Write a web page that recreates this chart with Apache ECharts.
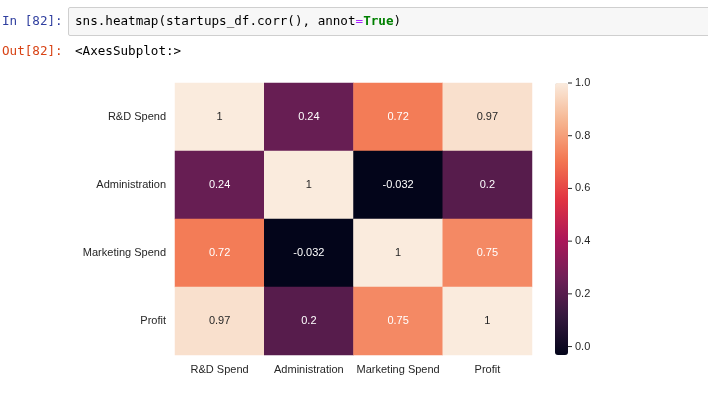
<!DOCTYPE html>
<html><head><meta charset="utf-8">
<script src="https://cdn.jsdelivr.net/npm/echarts@6/dist/echarts.min.js"></script>
<style>
html,body{margin:0;padding:0;background:#fff;width:708px;height:393px;overflow:hidden;}
#chart{position:absolute;left:0;top:0;width:708px;height:393px;}
.mono{position:absolute;font-family:"DejaVu Sans Mono","Liberation Mono",monospace;font-size:12.6px;white-space:pre;line-height:16px;}
#inbox{position:absolute;left:68px;top:7px;width:650px;height:29px;background:#f7f7f7;border:1px solid #cfcfcf;border-radius:2px;box-sizing:border-box;}
</style></head>
<body>
<div id="chart"></div>
<div id="inbox"></div>
<div class="mono" style="left:2px;top:13px;color:#303f9f;">In [82]:</div>
<div class="mono" style="left:75px;top:13px;color:#000;">sns.heatmap(startups_df.corr(), annot<span style="color:#aa22ff">=</span><span style="color:#008000;font-weight:bold">True</span>)</div>
<div class="mono" style="left:2px;top:43px;color:#d84315;">Out[82]:</div>
<div class="mono" style="left:75px;top:43px;color:#000;">&lt;AxesSubplot:&gt;</div>
<script>
const categories = ['R&D Spend', 'Administration', 'Marketing Spend', 'Profit'];
const corrRows = [
  [1, 0.24, 0.72, 0.97],
  [0.24, 1, -0.032, 0.2],
  [0.72, -0.032, 1, 0.75],
  [0.97, 0.2, 0.75, 1]
];
const colorbarTickMin = 0, colorbarTickMax = 1, colorbarTickStep = 0.2;
const rocket = ['#03051a', '#35193e', '#701f57', '#ad1759', '#e13342', '#f37651', '#f6b48f', '#faebdd'];

const flat = corrRows.flat();
const vmin = Math.min(...flat), vmax = Math.max(...flat);
const data = [];
corrRows.forEach((row, yi) => row.forEach((v, xi) => {
  data.push({value: [xi, yi, v], label: {color: v > 0.85 ? '#262626' : '#ffffff'}});
}));
const txt = '#262626';
const font = '"Liberation Sans", Arial, sans-serif';
const cbTop = 83, cbH = 272;
const tickTop = cbTop + cbH * (vmax - colorbarTickMax) / (vmax - vmin);
const tickH = cbH * (colorbarTickMax - colorbarTickMin) / (vmax - vmin);
const chart = echarts.init(document.getElementById('chart'), null, {renderer: 'canvas'});
chart.setOption({
  animation: false,
  backgroundColor: 'transparent',
  grid: [
    {left: 175, top: 83, width: 357, height: 272},
    {left: 555, top: tickTop, width: 13, height: tickH}
  ],
  xAxis: [
    {type: 'category', data: categories, gridIndex: 0,
     axisLine: {show: false}, axisTick: {show: false}, splitLine: {show: false},
     axisLabel: {color: txt, fontSize: 11, fontFamily: font, margin: 9, interval: 0}},
    {type: 'value', gridIndex: 1, show: false, min: 0, max: 1}
  ],
  yAxis: [
    {type: 'category', data: categories, gridIndex: 0, inverse: true,
     axisLine: {show: false}, axisTick: {show: false}, splitLine: {show: false},
     axisLabel: {color: txt, fontSize: 11, fontFamily: font, margin: 9, interval: 0}},
    {type: 'value', gridIndex: 1, position: 'right', z: 10,
     min: colorbarTickMin, max: colorbarTickMax, interval: colorbarTickStep,
     axisLine: {show: false}, splitLine: {show: false}, axisTick: {show: false},
     axisLabel: {show: true, margin: 0,
                 formatter: v => '{t|}{l|' + Number(v).toFixed(1) + '}',
                 rich: {
                   t: {width: 4, height: 1, backgroundColor: txt, verticalAlign: 'middle'},
                   l: {color: txt, fontSize: 11, fontFamily: font, padding: [0, 0, 0, 3], verticalAlign: 'middle'}
                 }}}
  ],
  visualMap: {
    type: 'continuous', seriesIndex: 0, min: vmin, max: vmax, z: 1,
    left: 555, top: cbTop, itemWidth: 13, itemHeight: cbH, padding: 0,
    calculable: false, hoverLink: false, showLabel: false,
    inRange: {color: rocket}
  },
  series: [
    {type: 'heatmap', xAxisIndex: 0, yAxisIndex: 0, data: data,
     label: {show: true, fontSize: 11, fontFamily: font,
             formatter: p => String(p.value[2])},
     itemStyle: {borderWidth: 0}},
    {type: 'line', xAxisIndex: 1, yAxisIndex: 1, data: [], showSymbol: false}
  ]
});
</script>
</body></html>
